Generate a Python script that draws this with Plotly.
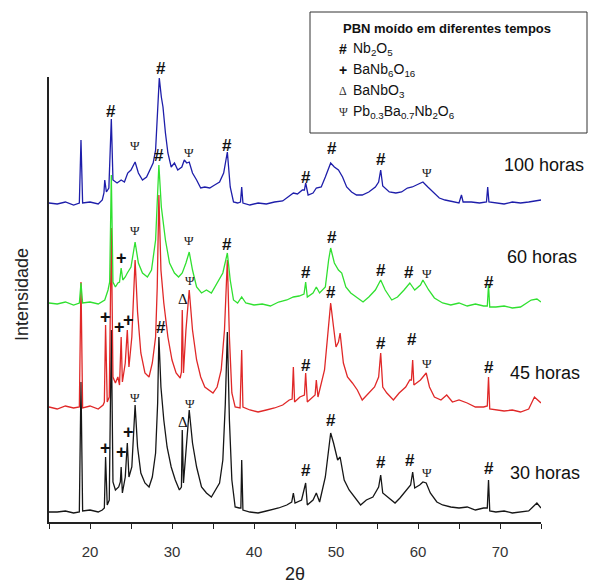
import plotly.graph_objects as go

# ---------------- data (stacked display intensity, a.u.) ----------------
tt_30 = [15.0,16.0,17.0,18.0,18.7,18.9,19.1,20.0,21.0,21.5,21.75,21.9,22.1,22.35,22.6,22.8,23.1,23.5,23.7,23.8,23.95,
         24.3,24.55,24.75,25.1,25.5,25.8,26.2,26.7,27.2,27.6,28.0,28.25,28.4,28.65,29.0,29.4,29.9,30.4,30.9,31.15,31.25,
         31.4,31.7,32.1,32.5,33.0,33.6,34.2,34.8,35.3,35.8,36.2,36.5,36.75,37.0,37.3,37.7,38.2,38.4,38.5,38.65,39.5,40.5,
         41.5,42.0,43.0,44.0,44.6,44.8,45.0,45.8,46.3,46.5,47.2,47.6,48.0,48.7,49.1,49.35,49.7,50.2,50.5,51.0,51.6,52.3,
         53.0,53.7,54.5,55.2,55.45,55.7,56.4,57.2,57.8,58.6,59.1,59.35,59.6,60.2,60.6,61.0,61.5,62.3,63.0,64.0,65.0,66.0,
         67.0,68.0,68.45,68.6,68.75,69.5,70.5,71.5,72.5,73.5,74.5,75.0]
I_30 = [10,10,11,9,10,140,11,12,10,12,14,65,17,22,192,40,32,35,40,55,29,
        45,79,45,55,117,75,49,39,35,45,69,119,185,135,102,75,55,42,32,35,92,
        39,69,112,79,55,35,29,25,32,39,62,118,190,102,42,15,14,14,62,12,10,9,
        11,12,14,17,20,29,19,22,39,17,22,29,20,45,75,89,79,62,65,42,32,25,
        17,22,25,35,47,29,24,19,24,32,37,50,34,37,40,39,29,20,17,15,14,15,
        12,14,14,42,11,10,11,9,10,11,19,14]

tt_45 = [15.0,16.0,17.0,18.0,18.7,18.9,19.1,20.0,21.0,21.6,21.75,21.9,22.1,22.35,22.6,22.8,23.1,23.4,23.6,23.8,23.95,
         24.3,24.55,24.75,25.1,25.5,25.8,26.2,26.7,27.2,27.6,28.0,28.2,28.4,28.65,29.0,29.5,30.0,30.5,31.0,31.15,31.25,
         31.4,31.7,32.1,32.5,33.0,33.5,34.0,34.5,35.0,35.5,36.0,36.4,36.75,37.0,37.3,37.7,38.3,38.5,38.65,39.5,40.5,41.5,
         42.5,43.5,44.3,44.65,44.8,44.95,45.6,46.15,46.3,46.5,47.1,47.45,47.6,47.8,48.6,49.0,49.35,49.7,50.0,50.3,50.5,
         50.9,51.4,52.0,52.6,53.2,54.0,54.7,55.2,55.45,55.7,56.2,57.0,57.7,58.5,59.0,59.2,59.35,59.5,60.3,61.0,61.4,62.0,
         62.8,63.5,64.2,65.0,66.0,67.0,68.0,68.45,68.6,68.75,69.5,70.5,71.5,72.5,73.5,74.2,75.0]
I_45 = [115,113,116,114,115,240,114,116,113,117,120,197,120,125,294,145,139,145,137,185,140,
        159,192,155,185,262,210,169,149,145,159,185,235,327,252,219,185,162,149,144,150,212,
        149,192,232,192,162,145,135,132,129,135,152,192,262,185,129,115,114,172,115,112,110,112,
        114,117,122,123,155,120,125,127,149,120,125,127,142,125,152,192,219,195,175,180,189,
        159,145,139,132,122,129,135,145,169,135,129,122,129,135,142,142,162,137,142,149,135,125,
        122,127,120,122,119,115,115,116,145,113,112,111,112,110,113,125,119]

tt_60 = [15.0,16.0,17.0,18.0,18.7,18.9,19.1,20.0,21.0,21.8,22.2,22.4,22.6,22.8,23.1,23.4,23.6,23.8,24.0,24.3,24.55,
         25.0,25.5,25.9,26.4,27.0,27.5,28.0,28.2,28.4,28.7,29.2,29.7,30.3,30.8,31.25,31.7,32.1,32.5,33.0,33.6,34.2,34.8,
         35.5,36.2,36.75,37.1,37.5,38.0,38.5,39.0,40.0,41.0,42.0,43.0,44.0,44.8,45.5,46.1,46.3,46.5,47.2,47.6,48.0,48.7,
         49.1,49.35,49.8,50.3,50.7,51.2,51.8,52.5,53.3,54.0,54.8,55.45,56.0,56.8,57.5,58.3,59.0,59.6,60.3,60.6,61.3,62.0,
         63.0,64.0,65.0,66.0,67.0,68.0,68.45,68.6,68.75,69.5,70.5,71.5,72.5,73.8,74.5,75.0]
I_60 = [219,218,220,217,219,239,219,220,218,222,232,240,347,240,235,239,240,254,242,245,249,
        255,280,259,249,245,252,282,320,357,315,282,259,249,245,249,259,270,252,235,229,232,229,
        239,249,269,242,222,219,225,219,217,218,216,220,222,225,226,228,240,225,229,235,229,235,
        262,274,259,252,249,235,229,225,220,225,232,242,232,222,225,232,239,232,237,242,232,224,
        219,217,219,216,218,216,216,237,215,215,216,214,215,222,223,220]

tt_100 = [15.0,16.0,17.0,18.0,18.7,18.9,19.1,20.0,21.0,21.5,21.7,21.8,22.0,22.3,22.6,22.8,23.3,23.8,24.2,24.6,25.0,
          25.5,25.9,26.4,26.9,27.3,27.7,28.0,28.25,28.45,28.7,28.9,29.2,29.5,29.9,30.3,30.7,31.2,31.5,31.8,32.1,32.5,
          33.0,33.5,34.0,34.6,35.2,35.8,36.3,36.75,37.1,37.5,38.0,38.35,38.5,38.65,39.5,40.5,41.5,42.5,43.5,44.0,44.8,
          45.3,45.9,46.15,46.3,46.6,47.2,47.6,48.2,48.7,49.1,49.35,49.8,50.3,50.8,51.3,51.9,52.5,53.2,54.0,54.8,55.2,
          55.45,55.7,56.5,57.3,58.0,58.7,59.3,59.9,60.6,61.2,61.9,62.6,63.3,64.0,65.0,65.3,65.5,66.5,67.5,68.35,68.5,
          68.65,69.5,70.5,71.5,72.5,73.5,74.5,75.0]
I_100 = [319,318,320,317,319,382,319,320,318,322,329,342,330,334,403,342,339,342,340,349,352,
         360,349,342,345,352,359,372,412,444,425,415,389,369,355,359,352,355,362,359,360,349,
         342,334,335,334,337,340,349,370,335,320,319,320,335,319,317,319,318,320,321,324,329,
         328,332,332,339,327,329,334,335,345,355,359,355,352,345,335,330,327,327,330,335,340,
         352,336,330,329,330,334,335,337,340,335,329,324,322,321,319,327,320,320,319,320,335,
         320,319,318,320,319,320,321,322]

series_names = ["30 horas", "45 horas", "60 horas", "100 horas"]
series_x = [tt_30, tt_45, tt_60, tt_100]
series_y = [I_30, I_45, I_60, I_100]
series_colors = ["#161616", "#e02828", "#30e030", "#1e1eaa"]

# phase markers: symbol, 2theta, display intensity
mark_sym = ["#", "#", "Ψ", "Ψ", "#", "#", "#", "#", "Ψ",
            "Ψ", "+", "#", "Ψ", "#", "#", "#", "#", "#", "Ψ", "#",
            "+", "+", "+", "Δ", "Ψ", "#", "#", "#", "#", "Ψ", "#",
            "+", "+", "+", "Ψ", "#", "Δ", "Ψ", "#", "#", "#", "#", "Ψ", "#"]
mark_x = [22.55, 28.6, 25.5, 32.1, 36.75, 46.3, 49.55, 55.45, 61.05,
          25.5, 23.8, 28.4, 32.1, 36.75, 46.3, 49.55, 55.45, 58.85, 61.05, 68.6,
          21.9, 23.65, 24.65, 31.35, 32.2, 46.3, 49.4, 55.45, 59.3, 61.05, 68.6,
          21.9, 23.8, 24.65, 25.5, 28.6, 31.3, 32.2, 46.4, 49.35, 55.45, 59.0, 61.05, 68.6]
mark_y = [410, 454, 377, 370, 377, 345, 374, 363, 349,
          292, 264, 367, 282, 277, 250, 285, 252, 250, 249, 240,
          205, 195, 202, 223, 242, 157, 230, 179, 182, 159, 155,
          74, 70, 90, 125, 195, 100, 119, 52, 102, 60, 62, 50, 54]

label_x = [71.0, 71.0, 70.6, 70.25]
label_y = [49, 149, 265, 357]

legend_title = "PBN moído em diferentes tempos"
legend_syms = ["#", "+", "Δ", "Ψ"]
legend_names = ["Nb<sub>2</sub>O<sub>5</sub>", "BaNb<sub>6</sub>O<sub>16</sub>",
                "BaNbO<sub>3</sub>", "Pb<sub>0.3</sub>Ba<sub>0.7</sub>Nb<sub>2</sub>O<sub>6</sub>"]

X_RANGE = [15, 75]
Y_RANGE = [0, 445]

# ---------------- figure ----------------
W, H = 589, 585
L, R, T, B = 49, 48, 77, 63
PW, PH = W - L - R, H - T - B

def px2paper(px, py):
    return (px - L) / PW, (H - B - py) / PH

def data2paper(x, y):
    return ((x - X_RANGE[0]) / (X_RANGE[1] - X_RANGE[0]),
            (y - Y_RANGE[0]) / (Y_RANGE[1] - Y_RANGE[0]))

fig = go.Figure()
for name, xs, ys, c in zip(series_names, series_x, series_y, series_colors):
    fig.add_trace(go.Scatter(x=xs, y=ys, mode="lines", name=name,
                             line=dict(color=c, width=1.3), showlegend=False))

FONT = "Arial, Liberation Sans, sans-serif"
SERIF = "Liberation Serif, DejaVu Serif, serif"
ann = []
for s, x, y in zip(mark_sym, mark_x, mark_y):
    if s == "#":
        f = dict(family=FONT, size=17, color="#111")
        t = "<b>#</b>"
    elif s == "+":
        f = dict(family=FONT, size=18, color="#111")
        t = "<b>+</b>"
    elif s == "Δ":
        f = dict(family=SERIF, size=15, color="#111")
        t = "Δ"
    else:
        f = dict(family=SERIF, size=13, color="#222")
        t = "Ψ"
    xp, yp = data2paper(x, y)
    ann.append(dict(x=xp, y=yp, xref="paper", yref="paper", text=t, showarrow=False,
                    xanchor="center", yanchor="middle", font=f))

for name, x, y in zip(series_names, label_x, label_y):
    xp, yp = data2paper(x, y)
    ann.append(dict(x=xp, y=yp, xref="paper", yref="paper", text=name, showarrow=False,
                    xanchor="left", yanchor="middle",
                    font=dict(family=FONT, size=18, color="#111")))

# legend box content
bx0, by0 = px2paper(310, 12)
bx1, by1 = px2paper(587, 133)
fig.add_shape(type="rect", xref="paper", yref="paper", x0=bx0, y0=by1, x1=bx1, y1=by0,
              line=dict(color="#333", width=1), fillcolor="white", layer="above")
tx, ty = px2paper(341, 28)
ann.append(dict(x=tx, y=ty, xref="paper", yref="paper", text="<b>" + legend_title + "</b>",
                showarrow=False, xanchor="left", yanchor="middle",
                font=dict(family=FONT, size=13, color="#111")))
row_y = [49, 70, 91, 112]
for s, n, ry in zip(legend_syms, legend_names, row_y):
    sx, sy = px2paper(343, ry)
    if s in ("#", "+"):
        sf = dict(family=FONT, size=14, color="#111")
        st = "<b>" + s + "</b>"
    else:
        sf = dict(family=SERIF, size=12, color="#333")
        st = s
    ann.append(dict(x=sx, y=sy, xref="paper", yref="paper", text=st, showarrow=False,
                    xanchor="center", yanchor="middle", font=sf))
    nx, ny = px2paper(351, ry)
    ann.append(dict(x=nx, y=ny, xref="paper", yref="paper", text=n, showarrow=False,
                    xanchor="left", yanchor="middle", font=dict(family=FONT, size=14, color="#111")))

# axis titles
ax_, ay_ = px2paper(22, 295)
ann.append(dict(x=ax_, y=ay_, xref="paper", yref="paper", text="Intensidade", textangle=-90,
                showarrow=False, xanchor="center", yanchor="middle",
                font=dict(family=FONT, size=18, color="#222")))
qx, qy = px2paper(295, 574)
ann.append(dict(x=qx, y=qy, xref="paper", yref="paper", text="2θ",
                showarrow=False, xanchor="center", yanchor="middle",
                font=dict(family=FONT, size=18, color="#222")))

fig.update_layout(
    width=W, height=H, margin=dict(l=L, r=R, t=T, b=B),
    paper_bgcolor="white", plot_bgcolor="white",
    annotations=ann,
    xaxis=dict(range=X_RANGE, showgrid=False, zeroline=False, showline=True,
               linecolor="#222", linewidth=1.5, ticks="outside", ticklen=5, tickwidth=1.2,
               tickcolor="#222", tick0=20, dtick=10,
               minor=dict(dtick=5, tick0=15, ticks="outside", ticklen=5, tickwidth=1.2,
                          tickcolor="#222", showgrid=False),
               tickfont=dict(family=FONT, size=15, color="#333"), ticklabelstandoff=10),
    yaxis=dict(range=Y_RANGE, showgrid=False, zeroline=False, showline=True,
               linecolor="#222", linewidth=1.5, ticks="", showticklabels=False),
)
fig.write_html("out.html", config={"displayModeBar": False},
               post_script="document.body.style.margin='0';")
